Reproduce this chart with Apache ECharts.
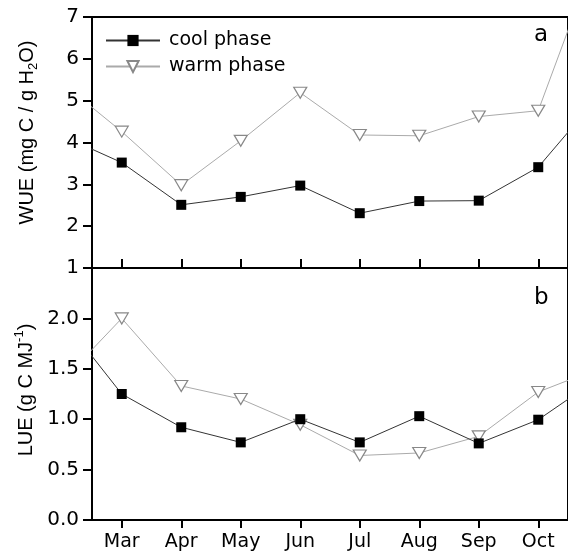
<!DOCTYPE html>
<html>
<head>
<meta charset="utf-8">
<script src="https://cdn.jsdelivr.net/npm/echarts@6/dist/echarts.min.js"></script>
<style>
html,body{margin:0;padding:0;background:#fff;}
#chart{width:568px;height:554px;}
</style>
</head>
<body>
<div id="chart"></div>
<script>
// Months (Feb and Nov lie just outside the visible plot and are clipped)
var months = ['Feb','Mar','Apr','May','Jun','Jul','Aug','Sep','Oct','Nov'];
var tickMonths = ['Mar','Apr','May','Jun','Jul','Aug','Sep','Oct'];
// Panel a: WUE (mg C / g H2O)
var wueCool = [4.16, 3.52, 2.51, 2.70, 2.97, 2.31, 2.60, 2.61, 3.41, 5.08];
var wueWarm = [5.42, 4.26, 2.98, 4.04, 5.19, 4.18, 4.16, 4.62, 4.76, 8.60];
// Panel b: LUE (g C MJ-1)
var lueCool = [2.00, 1.25, 0.92, 0.77, 1.00, 0.77, 1.03, 0.76, 0.995, 1.40];
var lueWarm = [1.38, 2.00, 1.33, 1.20, 0.945, 0.64, 0.665, 0.83, 1.27, 1.50];
var wueTicks = [1,2,3,4,5,6,7];
var lueTicks = [0,0.5,1,1.5,2];

function pos(name){ return months.indexOf(name) + 2; }
function pairs(arr){ return arr.map(function(v,i){ return [pos(months[i]), v]; }); }
var tickVals = tickMonths.map(pos);

var chart = echarts.init(document.getElementById('chart'), null, {renderer:'canvas'});
var FONT = '"DejaVu Sans", Verdana, sans-serif';
var NFONT = '"Liberation Sans", Arial, sans-serif';

var coolStyle = {
  type:'line', name:'cool phase', symbol:'rect', symbolSize:10, clip:true,
  lineStyle:{color:'#333', width:1},
  itemStyle:{color:'#000', borderColor:'#000', borderWidth:0},
  z:3
};
var warmStyle = {
  type:'line', name:'warm phase', symbol:'triangle', symbolRotate:180, symbolSize:[13,11], clip:true,
  lineStyle:{color:'#aaa', width:1},
  itemStyle:{color:'#fff', borderColor:'#888', borderWidth:1.2},
  z:2
};

function xAxisBase(gi, showLabels){
  return {
    type:'value', gridIndex:gi, min:2.5, max:10.5,
    axisLine:{show:false},
    splitLine:{show:false},
    axisTick:{show:true, inside: !showLabels, length: showLabels ? 8 : 9, customValues: tickVals,
      lineStyle:{color:'#000', width:2}},
    axisLabel:{show:showLabels, customValues: tickVals, color:'#000', fontSize:19, fontFamily:FONT, margin:13,
      formatter:function(v){ return months[Math.round(v)-2] || ''; }}
  };
}

var option = {
  backgroundColor:'#fff',
  animation:false,
  grid:[
    {left:92, top:17, width:479, height:251, show:true, borderColor:'#000', borderWidth:2, backgroundColor:'transparent'},
    {left:92, top:268, width:479, height:252, show:true, borderColor:'#000', borderWidth:2, backgroundColor:'transparent'}
  ],
  legend:{
    data:['cool phase','warm phase'], orient:'vertical', left:100, top:26, itemGap:7,
    itemWidth:54, itemHeight:14,
    textStyle:{color:'#000', fontSize:19, fontFamily:FONT, padding:[0,0,0,4]}
  },
  xAxis:[ xAxisBase(0,false), xAxisBase(1,true) ],
  yAxis:[
    {type:'value', gridIndex:0, min:wueTicks[0], max:wueTicks[wueTicks.length-1], interval:1,
     axisLine:{show:false}, splitLine:{show:false},
     axisTick:{show:true, length:9, lineStyle:{color:'#000', width:2}},
     axisLabel:{color:'#000', fontSize:20, fontFamily:FONT, margin:13},
     name:'{t|WUE (mg C / g H}{s|2}{t|O)}', nameLocation:'middle', nameRotate:90, nameGap:52,
     nameTextStyle:{padding:[0,0,0,20], rich:{t:{fontSize:20, lineHeight:26, fontFamily:NFONT, color:'#000'}, s:{fontSize:13, lineHeight:13, verticalAlign:'bottom', fontFamily:NFONT, color:'#000'}}}
    },
    {type:'value', gridIndex:1, min:0, max:2.5, interval:0.5,
     axisLine:{show:false}, splitLine:{show:false},
     axisTick:{show:true, length:9, lineStyle:{color:'#000', width:2}},
     axisLabel:{color:'#000', fontSize:20, fontFamily:FONT, margin:13, showMaxLabel:false,
       formatter:function(v){ return lueTicks.indexOf(v) >= 0 ? v.toFixed(1) : ''; }},
     name:'{t|LUE (g C MJ}{p|-1}{t|)}', nameLocation:'middle', nameRotate:90, nameGap:52,
     nameTextStyle:{padding:[0,0,0,8], rich:{t:{fontSize:20, lineHeight:26, fontFamily:NFONT, color:'#000'}, p:{fontSize:13, lineHeight:13, verticalAlign:'top', fontFamily:NFONT, color:'#000'}}}
    }
  ],
  graphic:[
    {type:'text', left:534, top:24, style:{text:'a', fontSize:23, fontFamily:FONT, fill:'#000'}},
    {type:'text', left:534, top:287, style:{text:'b', fontSize:23, fontFamily:FONT, fill:'#000'}}
  ],
  series:[
    Object.assign({}, coolStyle, {xAxisIndex:0, yAxisIndex:0, data:pairs(wueCool)}),
    Object.assign({}, warmStyle, {xAxisIndex:0, yAxisIndex:0, data:pairs(wueWarm)}),
    Object.assign({}, coolStyle, {xAxisIndex:1, yAxisIndex:1, data:pairs(lueCool)}),
    Object.assign({}, warmStyle, {xAxisIndex:1, yAxisIndex:1, data:pairs(lueWarm)})
  ]
};
chart.setOption(option);
</script>
</body>
</html>
